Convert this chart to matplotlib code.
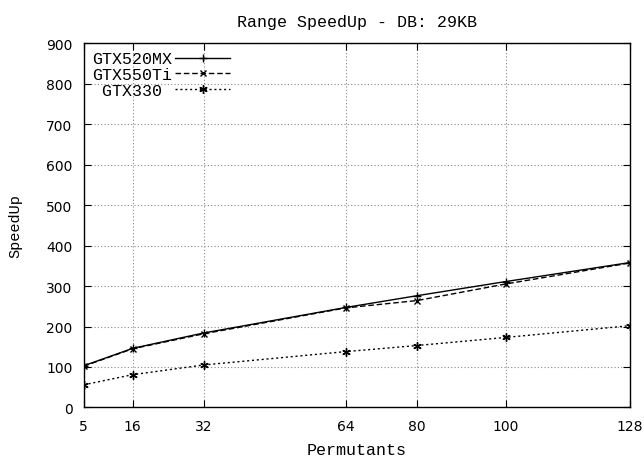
import matplotlib
matplotlib.use("Agg")
import matplotlib.pyplot as plt

permutants = [5, 16, 32, 64, 80, 100, 128]
gtx520mx = [103, 146, 184, 247, 276, 311, 358]
gtx550ti = [102, 145, 182, 246, 264, 305, 357]
gtx330 = [56, 81, 105, 138, 153, 173, 202]
yticks = list(range(0, 901, 100))

plt.rcParams['font.family'] = ['Liberation Mono', 'DejaVu Sans Mono']
plt.rcParams['font.size'] = 12

fig = plt.figure(figsize=(6.44, 4.6), dpi=100)
ax = fig.add_axes([0.130, 0.112, 0.848, 0.792])

ax.plot(permutants, gtx520mx, color="black", linestyle="-", linewidth=1,
        marker="+", markersize=6, label="GTX520MX")
ax.plot(permutants, gtx550ti, color="black", linestyle=(0, (4, 2)), linewidth=1,
        marker="x", markersize=5, label="GTX550Ti")
# trailing space so the short label sits roughly centred like gnuplot does
ax.plot(permutants, gtx330, color="black", linestyle=(0, (1.5, 2)), linewidth=1,
        marker=(6, 2, 0), markersize=6, label="GTX330 ")

ax.set_xlim(5, 128)
ax.set_ylim(0, 900)
ax.set_xticks(permutants)
ax.set_yticks(yticks)
ax.grid(True, color="#888888", linestyle=(0, (1, 2)), linewidth=0.8)
ax.tick_params(direction="in", top=True, right=True, length=5, pad=8)
for lbl in ax.get_xticklabels() + ax.get_yticklabels():
    lbl.set_fontfamily("DejaVu Sans")
    lbl.set_fontsize(10)
for s in ax.spines.values():
    s.set_linewidth(1)

ax.set_xlabel("Permutants", fontsize=12, labelpad=7)
ax.set_ylabel("SpeedUp", fontsize=11, labelpad=17)
ax.set_title("Range SpeedUp - DB: 29KB", fontsize=12, pad=12)

ax.legend(loc="upper left", frameon=False, markerfirst=False, handlelength=3.3,
          borderaxespad=0.1, labelspacing=0.05, handletextpad=0.2, fontsize=12)

fig.savefig("out.png", dpi=100)
